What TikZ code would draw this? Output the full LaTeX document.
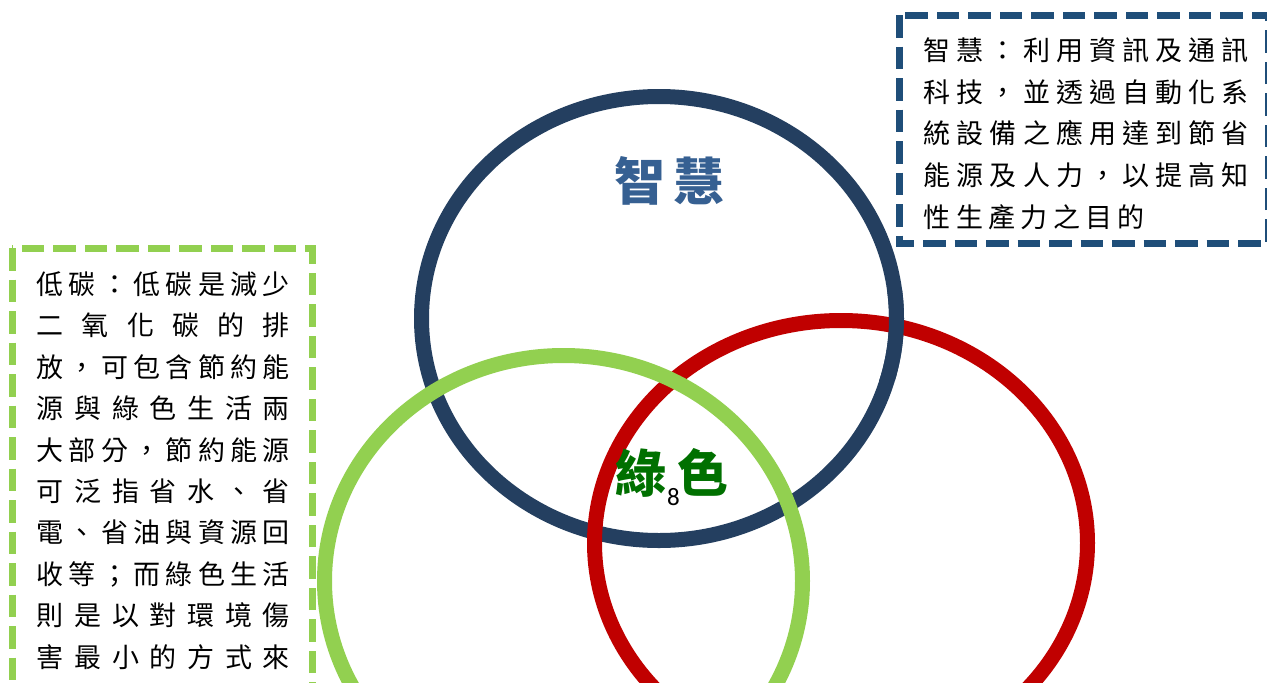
\documentclass[tikz,border=0pt]{standalone}
\usepackage{fontspec}
\newfontfamily\cjk{Noto Sans CJK TC}
\newfontfamily\latinf{Carlito}
\definecolor{circblue}{HTML}{243F60}
\definecolor{circred}{HTML}{C00000}
\definecolor{circgreen}{HTML}{92D050}
\definecolor{boxblue}{HTML}{1F4E79}
\definecolor{lblblue}{HTML}{366092}
\definecolor{lblgreen}{HTML}{007000}
\makeatletter
\def\spr@ad#1{\ifx#1\relax\else#1\hfil\expandafter\spr@ad\fi}
\newcommand\spreadline[2]{\makebox[#1][s]{\spr@ad#2\relax\unskip}}
\makeatother
\tikzset{
  ring/.style={line width=15pt},
  dashbox/.style={line width=7pt, dash pattern=on 22.5pt off 9pt},
  bodytext/.style={anchor=base west, inner sep=0pt, font=\cjk\fontsize{27}{27}\selectfont},
  biglabel/.style={anchor=base, inner sep=0pt, font=\cjk\bfseries\fontsize{51}{51}\selectfont}
}
\begin{document}
\begin{tikzpicture}[x=1pt,y=-1pt]
\useasboundingbox (0,0) rectangle (1267,683);
\clip (0,0) rectangle (1267,683);
\fill[white] (0,0) rectangle (1267,683);
% circles
\draw[ring, circblue] (659,318.5) ellipse [x radius=237.5pt, y radius=222pt];
\draw[ring, circred] (841,543) ellipse [x radius=246.5pt, y radius=222.5pt];
\begin{scope}
  \clip (860,290) rectangle (940,380);
  \draw[ring, circblue] (659,318.5) ellipse [x radius=237.5pt, y radius=222pt];
\end{scope}
\draw[ring, circgreen] (563.5,581) ellipse [x radius=239pt, y radius=225.5pt];
% labels
\node[biglabel, text=lblblue] (zh1) at (640,200) {智};
\node[biglabel, text=lblblue] (zh2) at (699,200) {慧};
\node[biglabel, text=lblgreen] (lv1) at (641,492) {綠};
\node[anchor=base, inner sep=0pt, font=\latinf\fontsize{25}{25}\selectfont] (eight) at (673.5,505) {8};
\node[biglabel, text=lblgreen] (lv2) at (703,492) {色};
% blue box
\draw[dashbox, boxblue] (899,15) rectangle (1268,243);
\node[bodytext] (b1) at (923.5,60.5) {\spreadline{325pt}{智慧：利用資訊及通訊}};
\node[bodytext] (b2) at (923.5,102.2) {\spreadline{325pt}{科技，並透過自動化系}};
\node[bodytext] (b3) at (923.5,143.9) {\spreadline{325pt}{統設備之應用達到節省}};
\node[bodytext] (b4) at (923.5,185.6) {\spreadline{325pt}{能源及人力，以提高知}};
\node[bodytext] (b5) at (923.5,227.3) {\spreadline{221pt}{性生產力之目的}};
% green box
\draw[dashbox, circgreen] (12,248) rectangle (312,720);
\node[bodytext] (g1) at (36.5,294.5) {\spreadline{253pt}{低碳：低碳是減少}};
\node[bodytext] (g2) at (36.5,335.9) {\spreadline{253pt}{二氧化碳的排}};
\node[bodytext] (g3) at (36.5,377.3) {\spreadline{253pt}{放，可包含節約能}};
\node[bodytext] (g4) at (36.5,418.7) {\spreadline{253pt}{源與綠色生活兩}};
\node[bodytext] (g5) at (36.5,460.1) {\spreadline{253pt}{大部分，節約能源}};
\node[bodytext] (g6) at (36.5,501.5) {\spreadline{253pt}{可泛指省水、省}};
\node[bodytext] (g7) at (36.5,542.9) {\spreadline{253pt}{電、省油與資源回}};
\node[bodytext] (g8) at (36.5,584.3) {\spreadline{253pt}{收等；而綠色生活}};
\node[bodytext] (g9) at (36.5,625.7) {\spreadline{253pt}{則是以對環境傷}};
\node[bodytext] (g10) at (36.5,667.1) {\spreadline{253pt}{害最小的方式來}};
\end{tikzpicture}
\end{document}
